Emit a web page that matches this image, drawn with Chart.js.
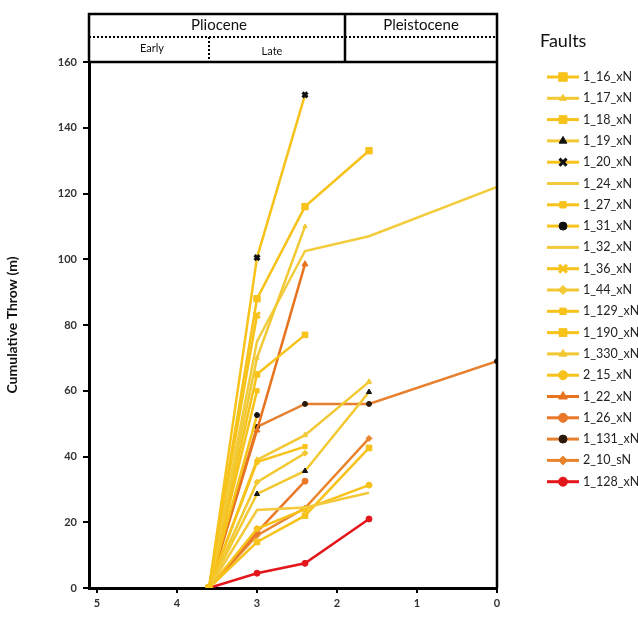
<!DOCTYPE html>
<html>
<head>
<meta charset="utf-8">
<script src="https://cdn.jsdelivr.net/npm/chart.js@4"></script>
<style>
  html, body { margin: 0; padding: 0; background: #fff; }
  #wrap { width: 638px; height: 626px; }
</style>
</head>
<body>
<div id="wrap"><canvas id="throwChart" width="638" height="626"></canvas></div>
<script>
// age (Ma) of each horizon
const ages = [3.6, 3.0, 2.4, 1.6, 0];

const faultNames = ["1_16_xN", "1_17_xN", "1_18_xN", "1_19_xN", "1_20_xN", "1_24_xN", "1_27_xN",
    "1_31_xN", "1_32_xN", "1_36_xN", "1_44_xN", "1_129_xN", "1_190_xN", "1_330_xN", "2_15_xN",
    "1_22_xN", "1_26_xN", "1_131_xN", "2_10_sN", "1_128_xN"];

// cumulative throw (m) at each age
const f1_16 = [0, 88, 116, 133];
const f1_17 = [0, 70, 110];
const f1_18 = [0, 65, 77];
const f1_19 = [0, 28.6, 35.6, 59.6];
const f1_20 = [0, 100.5, 150];
const f1_24 = [0, 75, 102.5, 107, 122];
const f1_27 = [0, 38.3, 43];
const f1_31 = [0, 52.6];
const f1_32 = [0, 23.7, 24.5, 29];
const f1_36 = [0, 83];
const f1_44 = [0, 32.2, 41];
const f1_129 = [0, 60];
const f1_190 = [0, 14, 22, 42.6];
const f1_330 = [0, 39, 46.5, 62.7];
const f2_15 = [0, 18, 24, 31.3];
const f1_22 = [0, 48, 98.5];
const f1_26 = [0, 17, 32.5];
const f1_131 = [0, 49, 56, 56, 69];
const f2_10 = [0, 16, 24.3, 45.5];
const f1_128 = [0, 4.5, 7.5, 21];

const throws = [f1_16, f1_17, f1_18, f1_19, f1_20, f1_24, f1_27, f1_31, f1_32, f1_36, f1_44,
    f1_129, f1_190, f1_330, f2_15, f1_22, f1_26, f1_131, f2_10, f1_128];

const xTicks = [5, 4, 3, 2, 1, 0];
const yTicks = [0, 20, 40, 60, 80, 100, 120, 140, 160];

// styles
const GOLD = "#F7C21A", GOLD2 = "#F2C833", ORANGE = "#E9782A", RED = "#E3161B";
const lineColors = [GOLD, GOLD2, GOLD, GOLD2, GOLD, "#F3CC3E", GOLD, GOLD, "#F4C93A", GOLD, GOLD2,
    GOLD, GOLD, GOLD2, GOLD, "#E8731F", ORANGE, "#E6802F", "#EA842C", RED];
const markers = ["rect", "triangle", "rect", "triangle", "crossRot", false, "rect", "circle", false,
    "crossRot", "rectRot", "rect", "rect", "triangle", "circle", "triangle", "circle", "circle", "rectRot", "circle"];
const markerSize = [4.5, 2.5, 4, 3, 3.5, 0, 3, 2.5, 0, 4, 3, 3, 4, 3, 3, 3.5, 3, 2.5, 3, 3];
const markerFill = [null, null, null, "#111", "#111", null, null, "#111", null, null, null,
    null, null, null, null, null, null, "#2a1a0a", null, null];

const datasets = throws.map((vals, i) => ({
    label: faultNames[i],
    data: vals.map((v, j) => ({x: ages[j], y: v})),
    borderColor: lineColors[i],
    backgroundColor: markerFill[i] || lineColors[i],
    pointBorderColor: markerFill[i] || lineColors[i],
    borderWidth: 2.5,
    pointStyle: markers[i],
    pointRadius: markerSize[i],
    pointBorderWidth: markers[i] === "crossRot" ? 3 : 1,
    tension: 0,
    fill: false
}));

const eraBox = {
    id: "eraBox",
    afterDraw(chart) {
        const {ctx, chartArea: a} = chart;
        const top = 14, mid = 37;
        const xs = chart.scales.x;
        const bound = xs.getPixelForValue(1.9);
        const early = xs.getPixelForValue(3.6);
        ctx.save();
        ctx.strokeStyle = "#000";
        ctx.lineWidth = 2.5;
        ctx.beginPath();
        ctx.moveTo(a.left, a.top); ctx.lineTo(a.left, top);
        ctx.lineTo(a.right, top); ctx.lineTo(a.right, a.bottom);
        ctx.moveTo(a.left, a.top); ctx.lineTo(a.right, a.top);
        ctx.moveTo(bound, top); ctx.lineTo(bound, a.top);
        ctx.stroke();
        ctx.setLineDash([2, 2]);
        ctx.lineWidth = 2;
        ctx.beginPath();
        ctx.moveTo(a.left, mid); ctx.lineTo(a.right, mid);
        ctx.moveTo(early, mid); ctx.lineTo(early, a.top);
        ctx.stroke();
        ctx.setLineDash([]);
        ctx.fillStyle = "#111";
        ctx.textAlign = "center";
        ctx.textBaseline = "middle";
        ctx.font = "15px Lato";
        ctx.fillText("Pliocene", (a.left + bound) / 2 + 2, 25);
        ctx.fillText("Pleistocene", (bound + a.right) / 2, 25);
        ctx.font = "11px Lato";
        ctx.fillText("Early", 152, 48);
        ctx.fillText("Late", 272, 51);
        ctx.restore();
    }
};

const sideLegend = {
    id: "sideLegend",
    afterDraw(chart) {
        const ctx = chart.ctx;
        ctx.save();
        ctx.fillStyle = "#111";
        ctx.font = "18px Lato";
        ctx.textBaseline = "middle";
        ctx.fillText("Faults", 540, 41);
        ctx.font = "12.5px Lato";
        chart.data.datasets.forEach((ds, i) => {
            const y = 77 + i * 21.3;
            ctx.strokeStyle = ds.borderColor;
            ctx.lineWidth = 3;
            ctx.beginPath();
            ctx.moveTo(547, y); ctx.lineTo(579, y);
            ctx.stroke();
            if (ds.pointStyle) {
                ctx.fillStyle = ds.backgroundColor;
                ctx.strokeStyle = ds.pointBorderColor;
                ctx.lineWidth = ds.pointBorderWidth;
                Chart.helpers.drawPoint(ctx, {pointStyle: ds.pointStyle, radius: ds.pointRadius + 1.5, rotation: 0, borderWidth: ds.pointBorderWidth}, 563, y);
            }
            ctx.fillStyle = "#222";
            ctx.fillText(ds.label, 583, y);
        });
        ctx.restore();
    }
};

document.addEventListener("DOMContentLoaded", () => {
    const ctx = document.getElementById("throwChart").getContext("2d");

    new Chart(ctx, {
        type: "line",
        data: {datasets},
        plugins: [eraBox, sideLegend],
        options: {
            responsive: false,
            animation: false,
            layout: {padding: {top: 62, right: 141, left: 0, bottom: 0}},
            plugins: {legend: {display: false}, tooltip: {enabled: false}},
            scales: {
                x: {
                    type: "linear", reverse: true, min: 0, max: 5.1,
                    afterFit: s => { s.height = 38; },
                    afterBuildTicks: s => { s.ticks = xTicks.map(v => ({value: v})); },
                    ticks: {color: "#333", font: {family: "Lato", size: 11, weight: "bold"}, padding: 4},
                    grid: {drawOnChartArea: false, drawTicks: true, tickLength: 5, color: "#000", lineWidth: 2},
                    border: {color: "#000", width: 3}
                },
                y: {
                    min: 0, max: 160,
                    afterFit: s => { s.width = 89; },
                    afterBuildTicks: s => { s.ticks = yTicks.map(v => ({value: v})); },
                    ticks: {color: "#333", font: {family: "Lato", size: 11, weight: "bold"}, padding: 6},
                    grid: {drawOnChartArea: false, drawTicks: true, tickLength: 6, color: "#000", lineWidth: 2},
                    border: {color: "#000", width: 3},
                    title: {display: true, text: "Cumulative Throw (m)", color: "#111",
                        font: {family: "Lato", size: 14, weight: "bold"}, padding: {bottom: 12}}
                }
            }
        }
    });
});
</script>
</body>
</html>
